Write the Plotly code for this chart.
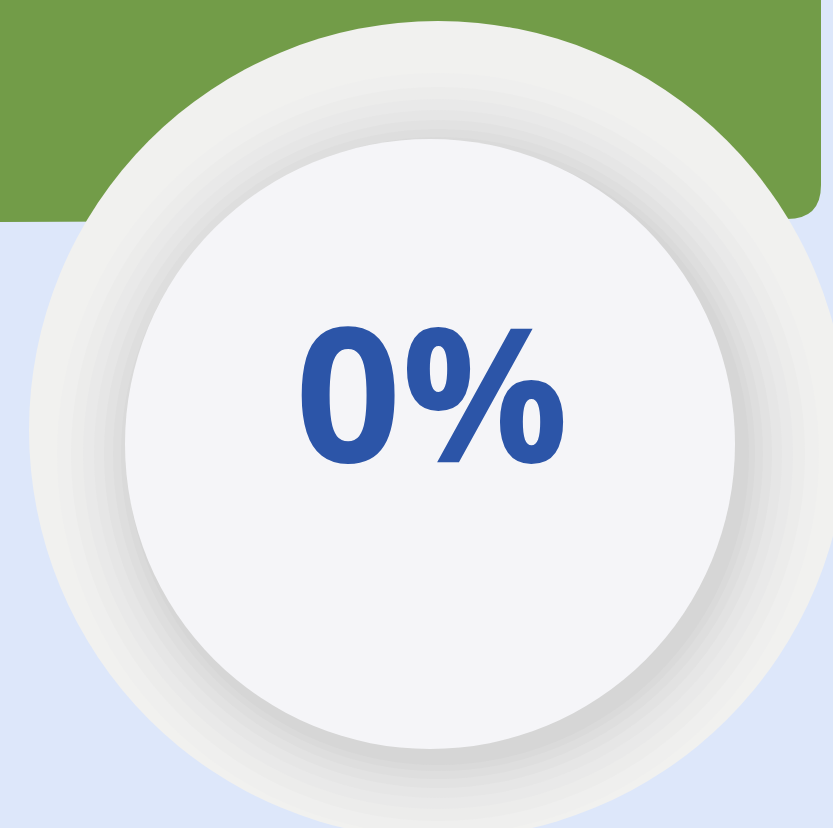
import plotly.graph_objects as go

# ---- data ----
progress_values = [0]
progress_labels = [f"{v}%" for v in progress_values]

W, H = 833, 828

fig = go.Figure()

shapes = []
# green header with rounded bottom-right corner
rc = 34
gx, gy = 821, 219
shapes.append(dict(
    type="path",
    path=f"M -5,-5 L {gx},-5 L {gx},{gy - rc} Q {gx},{gy} {gx - rc},{gy} L -5,{gy + 3} Z",
    fillcolor="#729c48", line=dict(width=0), layer="below",
))

# outer disc
ocx, ocy, orad = 438, 430, 409
shapes.append(dict(type="circle", x0=ocx - orad, x1=ocx + orad, y0=ocy - orad, y1=ocy + orad,
                   fillcolor="#f1f1ef", line=dict(width=0), layer="below"))

# soft shadow rings around the inner disc
icx, icy, irad = 430, 444, 305
shadow = [(76, "#efefee"), (62, "#ececeb"), (50, "#e9e9e9"), (39, "#e6e6e6"),
          (29, "#e2e2e2"), (20, "#dedede"), (12, "#dadada"), (6, "#d6d6d6")]
sdx, sdy = 8, 10
for k, col in shadow:
    rr = irad + k
    shapes.append(dict(type="circle", x0=icx + sdx - rr, x1=icx + sdx + rr,
                       y0=icy + sdy - rr, y1=icy + sdy + rr,
                       fillcolor=col, line=dict(width=0), layer="below"))

# inner disc
shapes.append(dict(type="circle", x0=icx - irad, x1=icx + irad, y0=icy - irad, y1=icy + irad,
                   fillcolor="#f5f5f8", line=dict(width=0), layer="below"))

fig.update_layout(
    width=W, height=H,
    margin=dict(l=0, r=0, t=0, b=0),
    paper_bgcolor="#dde7fa",
    plot_bgcolor="rgba(0,0,0,0)",
    xaxis=dict(range=[0, W], visible=False, fixedrange=True),
    yaxis=dict(range=[H, 0], visible=False, fixedrange=True),
    shapes=shapes,
    showlegend=False,
    annotations=[dict(
        x=432, y=389, xref="x", yref="y",
        text=f"<b>{progress_labels[0]}</b>", showarrow=False,
        font=dict(family="Open Sans", size=186, color="#2c55a8"),
        xanchor="center", yanchor="middle",
    )],
)

fig.write_html(
    "out.html",
    config={"displayModeBar": False},
    post_script="document.body.style.margin='0';document.body.style.background='#dde7fa';",
)
